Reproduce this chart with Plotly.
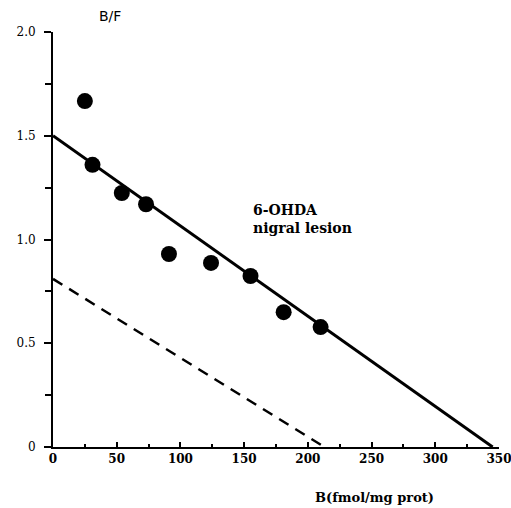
import plotly.graph_objects as go

# Data
b_vals = [25, 31, 54, 73, 91, 124, 155, 181, 210]
bf_vals = [1.667, 1.36, 1.224, 1.17, 0.93, 0.887, 0.824, 0.65, 0.578]

fit_x = [0, 345]
fit_y = [1.5, 0.0]

ctrl_x = [0, 213]
ctrl_y = [0.81, 0.0]

x_ticks = [0, 50, 100, 150, 200, 250, 300, 350]
x_tick_text = ["0", "50", "100", "150", "200", "250", "300", "350"]
y_ticks = [0, 0.5, 1.0, 1.5, 2.0]
y_tick_text = ["0", "0.5", "1.0", "1.5", "2.0"]

FONT = "DejaVu Serif"

fig = go.Figure()
fig.add_trace(go.Scatter(x=fit_x, y=fit_y, mode="lines",
                         line=dict(color="black", width=3), showlegend=False))
fig.add_trace(go.Scatter(x=ctrl_x, y=ctrl_y, mode="lines",
                         line=dict(color="black", width=2.5, dash="11px,8px"), showlegend=False))
fig.add_trace(go.Scatter(x=b_vals, y=bf_vals, mode="markers",
                         marker=dict(color="black", size=16), showlegend=False))

fig.add_annotation(x=155, y=1.19, xref="x", yref="y", text="6-OHDA<br>nigral lesion",
                   showarrow=False, xanchor="left", yanchor="top", align="left",
                   font=dict(family=FONT, size=14, color="black", weight="bold"))
fig.add_annotation(x=0.128, y=1.0, xref="paper", yref="paper", text="B/F",
                   showarrow=False, xanchor="center", yanchor="bottom", yshift=6,
                   font=dict(family="DejaVu Sans", size=14, color="black"))
fig.add_annotation(x=0.72, y=0, xref="paper", yref="paper", text="B(fmol/mg prot)",
                   showarrow=False, xanchor="center", yanchor="top", yshift=-41,
                   font=dict(family=FONT, size=13, color="black", weight="bold"))

fig.update_layout(
    width=511, height=508,
    margin=dict(l=53, r=12, t=32, b=61, autoexpand=False),
    plot_bgcolor="white", paper_bgcolor="white",
    font=dict(family=FONT, size=12, color="black"),
    xaxis=dict(range=[0, 350], tickvals=x_ticks, ticktext=x_tick_text, automargin=False,
               ticklabeloverflow="allow",
               showgrid=False, zeroline=False, showline=True, linecolor="black", linewidth=2,
               ticks="inside", ticklen=5, tickwidth=1.5, tickcolor="black",
               minor=dict(tickvals=[25, 75, 125, 175, 225, 275, 325], ticks="inside",
                          ticklen=3, tickcolor="black", tickwidth=1.5),
               tickfont=dict(family=FONT, size=12, color="black", weight="bold")),
    yaxis=dict(range=[0, 2.0], tickvals=y_ticks, ticktext=y_tick_text, automargin=False,
               ticklabeloverflow="allow",
               showgrid=False, zeroline=False, showline=True, linecolor="black", linewidth=2,
               ticks="outside", ticklen=7, tickwidth=1.5, tickcolor="black",
               minor=dict(tickvals=[0.25, 0.75, 1.25, 1.75], ticks="outside",
                          ticklen=6, tickcolor="black", tickwidth=1.5),
               ticklabelstandoff=6,
               tickfont=dict(family=FONT, size=12, color="black")),
)

fig.write_html("out.html")
